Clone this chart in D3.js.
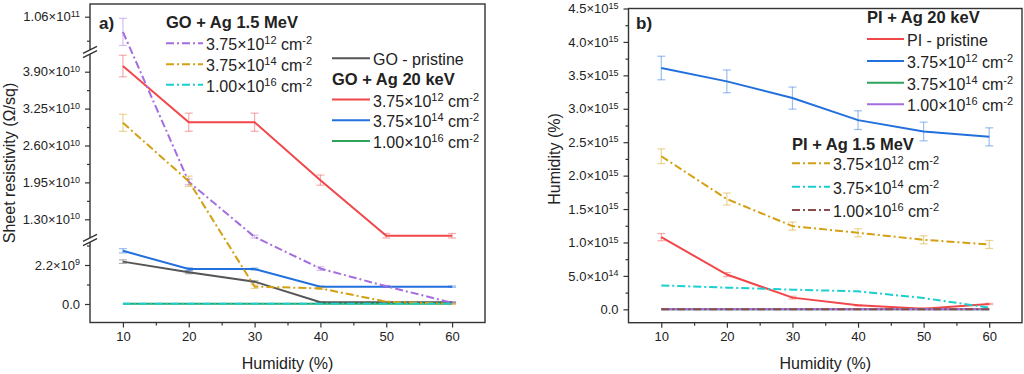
<!DOCTYPE html>
<html lang="en">
<head>
<meta charset="utf-8">
<title>Sheet resistivity vs humidity</title>
<script src="https://d3js.org/d3.v7.min.js"></script>
<style>
  body { margin: 0; background: #fff; }
  svg text { font-family: "Liberation Sans", Arial, sans-serif; fill: #222; }
</style>
</head>
<body>
<script>
// ---- data ----
var humidity = [10, 20, 30, 40, 50, 60];

// panel a) GO, sheet resistivity (Ohm/sq)
var goPristine     = [2.39e9, 1.79e9, 1.26e9, 0.10e9, 0.10e9, 0.10e9];
var goPristineErr  = [0.10e9, 0.08e9, 0.05e9, 0.02e9, 0.02e9, 0.02e9];
var go20k_12       = [4.00e10, 3.01e10, 3.01e10, 1.99e10, 1.01e10, 1.01e10];
var go20k_12Err    = [1.9e9, 1.6e9, 1.6e9, 0.9e9, 0.4e9, 0.4e9];
var go20k_14       = [3.00e9, 1.97e9, 1.97e9, 0.98e9, 0.98e9, 0.98e9];
var go20k_14Err    = [0.12e9, 0.08e9, 0.06e9, 0.04e9, 0.04e9, 0.04e9];
var go20k_16       = [0.02e9, 0.02e9, 0.02e9, 0.02e9, 0.02e9, 0.02e9];
var go15M_12       = [1.041e11, 1.96e10, 0.99e10, 2.0e9, 1.0e9, 0.07e9];
var go15M_12Err    = [1.7e9, 0.5e9, 0.3e9, 0.1e9, 0.05e9, 0.05e9];
var go15M_14       = [3.00e10, 1.97e10, 0.98e9, 0.88e9, 0.13e9, 0.0];
var go15M_14Err    = [1.5e9, 0.9e9, 0.1e9, 0.05e9, 0.02e9, 0.02e9];
var go15M_16       = [0.02e9, 0.02e9, 0.02e9, 0.02e9, 0.02e9, 0.02e9];

// panel b) PI
var piPristine     = [1.08e15, 0.52e15, 0.175e15, 0.06e15, 0.01e15, 0.08e15];
var piPristineErr  = [0.055e15, 0.03e15, 0.02e15, 0.01e15, 0.01e15, 0.01e15];
var pi20k_12       = [3.61e15, 3.41e15, 3.16e15, 2.83e15, 2.66e15, 2.58e15];
var pi20k_12Err    = [0.176e15, 0.17e15, 0.165e15, 0.14e15, 0.14e15, 0.135e15];
var pi20k_14       = [0, 0, 0, 0, 0, 0];
var pi20k_16       = [0, 0, 0, 0, 0, 0];
var pi15M_12       = [2.29e15, 1.65e15, 1.245e15, 1.145e15, 1.04e15, 0.97e15];
var pi15M_12Err    = [0.11e15, 0.09e15, 0.06e15, 0.06e15, 0.06e15, 0.06e15];
var pi15M_14       = [0.358e15, 0.324e15, 0.294e15, 0.269e15, 0.169e15, 0.025e15];
var pi15M_16       = [0, 0, 0, 0, 0, 0];

// tick labels
var xTicks = [10, 20, 30, 40, 50, 60];
var xMinor = [15, 25, 35, 45, 55];
var aTicks = [0, 2.2e9, 1.30e10, 1.95e10, 2.60e10, 3.25e10, 3.90e10, 1.06e11];
var aTickLabels = ["0.0", "2.2×10^9", "1.30×10^10", "1.95×10^10", "2.60×10^10",
                   "3.25×10^10", "3.90×10^10", "1.06×10^11"];
var aMinor = [1.1e9, 3.3e9, 1.625e10, 2.275e10, 2.925e10, 3.575e10, 1.03e11];
var bTicks = [0, 0.5e15, 1.0e15, 1.5e15, 2.0e15, 2.5e15, 3.0e15, 3.5e15, 4.0e15, 4.5e15];
var bTickLabels = ["0.0", "5.0×10^14", "1.0×10^15", "1.5×10^15", "2.0×10^15",
                   "2.5×10^15", "3.0×10^15", "3.5×10^15", "4.0×10^15", "4.5×10^15"];
var bMinor = [0.25e15, 0.75e15, 1.25e15, 1.75e15, 2.25e15, 2.75e15, 3.25e15, 3.75e15, 4.25e15];

var fluence = ["3.75×10^12 cm^-2", "3.75×10^14 cm^-2", "1.00×10^16 cm^-2"];

// colours
var cGray = "#555555", cRed = "#f2474a", cBlue = "#2270dd", cGreen = "#2da35b",
    cPurple = "#a46ee0", cGold = "#d4a013", cCyan = "#19cfcf", cBrown = "#8a4b4b";
var dashDot = "8,3,2,3";

var W = 1024, H = 374;
var svg = d3.select("body").append("svg").attr("width", W).attr("height", H);

// write "a×10^b cm^-2" with real superscripts
function rich(t, str, sup, rise) {
  var parts = str.split(/\^(\S+)/);
  var up = false;
  parts.forEach(function(p, i) {
    if (!p) return;
    var s = t.append("tspan").text(p);
    if (i % 2) { s.attr("font-size", sup).attr("dy", -rise); up = true; }
    else if (up) { s.attr("dy", rise); up = false; }
  });
}

function lineOf(x, y) {
  return d3.line().x(function(d, i) { return x(humidity[i]); }).y(function(d) { return y(d); });
}

function drawSeries(g, x, y, vals, err, color, dash) {
  if (err) {
    var eb = g.append("g").attr("stroke", color).attr("stroke-opacity", 0.45).attr("stroke-width", 1.2);
    vals.forEach(function(v, i) {
      var cx = x(humidity[i]), y1 = y(v - err[i]), y2 = y(v + err[i]);
      eb.append("line").attr("x1", cx).attr("x2", cx).attr("y1", y1).attr("y2", y2);
      eb.append("line").attr("x1", cx - 4).attr("x2", cx + 4).attr("y1", y1).attr("y2", y1);
      eb.append("line").attr("x1", cx - 4).attr("x2", cx + 4).attr("y1", y2).attr("y2", y2);
    });
  }
  g.append("path").datum(vals)
    .attr("d", lineOf(x, y))
    .attr("fill", "none").attr("stroke", color).attr("stroke-width", 2)
    .attr("stroke-dasharray", dash || null);
}

function drawAxes(g, x, y, box, yt, ytl, ym) {
  g.append("g").attr("transform", "translate(0," + box.b + ")")
    .call(d3.axisBottom(x).tickValues(xTicks).tickSize(5).tickPadding(4).tickSizeOuter(0));
  g.append("g").attr("transform", "translate(0," + box.b + ")")
    .call(d3.axisBottom(x).tickValues(xMinor).tickSize(3).tickFormat(""));
  var ay = g.append("g").attr("transform", "translate(" + box.l + ",0)")
    .call(d3.axisLeft(y).tickValues(yt).tickSize(5).tickPadding(5).tickSizeOuter(0)
      .tickFormat(function(d, i) { return ytl[i]; }));
  g.append("g").attr("transform", "translate(" + box.l + ",0)")
    .call(d3.axisLeft(y).tickValues(ym).tickSize(3).tickFormat(""));
  g.selectAll(".domain").remove();
  g.selectAll(".tick line").attr("stroke", "#333").attr("stroke-width", 1.2);
  g.selectAll(".tick text").attr("font-size", 13).attr("fill", "#222")
    .attr("font-family", "Liberation Sans, Arial, sans-serif");
  ay.selectAll(".tick text").each(function() {
    var t = d3.select(this), s = t.text();
    t.text(null);
    rich(t, s, 9, 4.5);
  });
  g.append("rect").attr("x", box.l).attr("y", box.t)
    .attr("width", box.r - box.l).attr("height", box.b - box.t)
    .attr("fill", "none").attr("stroke", "#333").attr("stroke-width", 1.4);
}

function legend(g, x0, len, items) {
  items.forEach(function(it) {
    if (it.head) {
      g.append("text").attr("x", x0).attr("y", it.y + 6)
        .attr("font-size", 16.5).attr("font-weight", "bold").text(it.head);
      return;
    }
    g.append("line").attr("x1", x0).attr("x2", x0 + len).attr("y1", it.y).attr("y2", it.y)
      .attr("stroke", it.color).attr("stroke-width", 2).attr("stroke-dasharray", it.dash || null);
    var t = g.append("text").attr("x", x0 + len + 3).attr("y", it.y + 7).attr("font-size", 16);
    rich(t, it.label, 11, 6);
  });
}

// ---------- panel a ----------
var boxA = { l: 90, r: 485, t: 4, b: 322.5 };
var xA = d3.scaleLinear().domain([5, 65]).range([boxA.l, boxA.r]);
// broken axis: three linear pieces joined by gaps at y=240 and y=52
var segLow = d3.scaleLinear().domain([0, 2.2e9]).range([304, 265]);
var segMid = d3.scaleLinear().domain([1.30e10, 3.90e10]).range([219.3, 71.7]);
var segTop = d3.scaleLinear().domain([1.03e11, 1.06e11]).range([40.7, 16.7]);
var yA = d3.scaleLinear()
  .domain([segLow.invert(boxA.b), segLow.invert(242), segMid.invert(238),
           segMid.invert(54), segTop.invert(50), segTop.invert(boxA.t)])
  .range([boxA.b, 242, 238, 54, 50, boxA.t]);

var gA = svg.append("g");
var plotA = gA.append("g");
drawSeries(plotA, xA, yA, goPristine, goPristineErr, cGray);
drawSeries(plotA, xA, yA, go20k_12, go20k_12Err, cRed);
drawSeries(plotA, xA, yA, go20k_14, go20k_14Err, cBlue);
drawSeries(plotA, xA, yA, go20k_16, null, cGreen);
drawSeries(plotA, xA, yA, go15M_12, go15M_12Err, cPurple, dashDot);
drawSeries(plotA, xA, yA, go15M_14, go15M_14Err, cGold, dashDot);
drawSeries(plotA, xA, yA, go15M_16, null, cCyan, dashDot);
drawAxes(gA, xA, yA, boxA, aTicks, aTickLabels, aMinor);

// break marks
[240, 52].forEach(function(by) {
  gA.append("rect").attr("x", boxA.l - 2).attr("y", by - 2).attr("width", 4).attr("height", 4).attr("fill", "#fff");
  [-2.2, 2.2].forEach(function(o) {
    gA.append("line").attr("x1", boxA.l - 7).attr("x2", boxA.l + 7)
      .attr("y1", by + o + 3.5).attr("y2", by + o - 3.5)
      .attr("stroke", "#333").attr("stroke-width", 1.3);
  });
});

gA.append("text").attr("x", 99).attr("y", 29).attr("font-size", 17).attr("font-weight", "bold").text("a)");
gA.append("text").attr("transform", "translate(15,163) rotate(-90)")
  .attr("text-anchor", "middle").attr("font-size", 16).text("Sheet resistivity (Ω/sq)");
gA.append("text").attr("x", (boxA.l + boxA.r) / 2).attr("y", 369)
  .attr("text-anchor", "middle").attr("font-size", 16).text("Humidity (%)");

legend(gA, 166, 37, [
  { head: "GO + Ag 1.5 MeV", y: 22 },
  { label: fluence[0], color: cPurple, dash: dashDot, y: 43.3 },
  { label: fluence[1], color: cGold, dash: dashDot, y: 64.3 },
  { label: fluence[2], color: cCyan, dash: dashDot, y: 84.7 }
]);
legend(gA, 332, 38, [
  { label: "GO - pristine", color: cGray, y: 58.3 },
  { head: "GO + Ag 20 keV", y: 79.3 },
  { label: fluence[0], color: cRed, y: 99.5 },
  { label: fluence[1], color: cBlue, y: 120.2 },
  { label: fluence[2], color: cGreen, y: 140.9 }
]);

// ---------- panel b ----------
var boxB = { l: 628.5, r: 1022, t: 8.5, b: 322.7 };
var xB = d3.scaleLinear().domain([5, 65]).range([boxB.l, boxB.r]);
var yB = d3.scaleLinear().domain([-0.2e15, 4.5e15]).range([boxB.b, boxB.t]);

var gB = svg.append("g");
var plotB = gB.append("g");
drawSeries(plotB, xB, yB, piPristine, piPristineErr, cRed);
drawSeries(plotB, xB, yB, pi20k_12, pi20k_12Err, cBlue);
drawSeries(plotB, xB, yB, pi20k_14, null, cGreen);
drawSeries(plotB, xB, yB, pi20k_16, null, cPurple);
drawSeries(plotB, xB, yB, pi15M_12, pi15M_12Err, cGold, dashDot);
drawSeries(plotB, xB, yB, pi15M_14, null, cCyan, dashDot);
drawSeries(plotB, xB, yB, pi15M_16, null, cBrown, dashDot);
drawAxes(gB, xB, yB, boxB, bTicks, bTickLabels, bMinor);

gB.append("text").attr("x", 636).attr("y", 29).attr("font-size", 17).attr("font-weight", "bold").text("b)");
gB.append("text").attr("transform", "translate(560,159) rotate(-90)")
  .attr("text-anchor", "middle").attr("font-size", 16).text("Humidity (%)");
gB.append("text").attr("x", (boxB.l + boxB.r) / 2).attr("y", 369)
  .attr("text-anchor", "middle").attr("font-size", 16).text("Humidity (%)");

legend(gB, 867, 37, [
  { head: "PI + Ag 20 keV", y: 17 },
  { label: "PI - pristine", color: cRed, y: 39 },
  { label: fluence[0], color: cBlue, y: 61 },
  { label: fluence[1], color: cGreen, y: 82.7 },
  { label: fluence[2], color: cPurple, y: 104.3 }
]);
legend(gB, 792, 38, [
  { head: "PI + Ag 1.5 MeV", y: 143.5 },
  { label: fluence[0], color: cGold, dash: dashDot, y: 163.3 },
  { label: fluence[1], color: cCyan, dash: dashDot, y: 186.7 },
  { label: fluence[2], color: cBrown, dash: dashDot, y: 210 }
]);
</script>
</body>
</html>
